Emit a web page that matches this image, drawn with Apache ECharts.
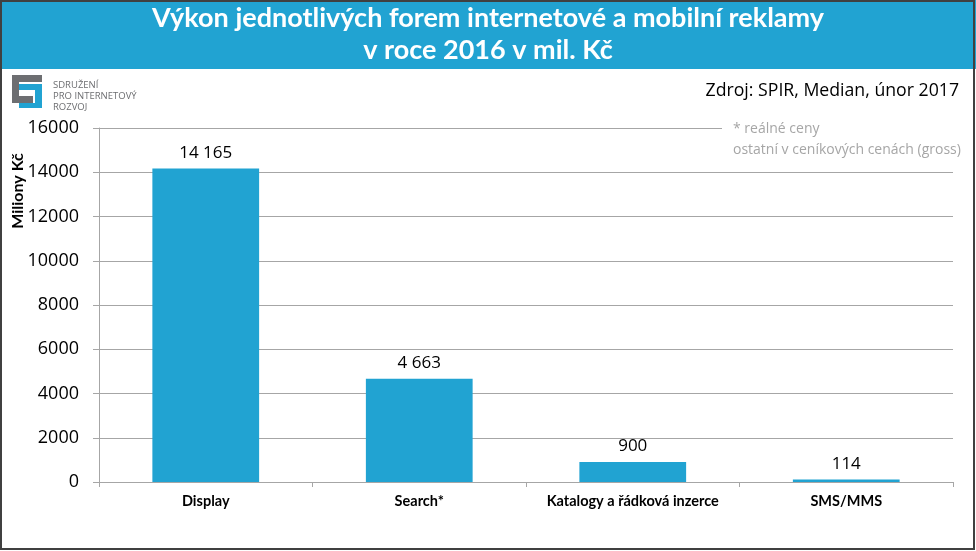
<!DOCTYPE html>
<html><head><meta charset="utf-8">
<script src="https://cdn.jsdelivr.net/npm/echarts@6/dist/echarts.min.js"></script>
<style>html,body{margin:0;padding:0;background:#fff}#c{width:976px;height:551px}</style>
</head><body><div id="c"></div>
<script>
const categories = ['Display', 'Search*', 'Katalogy a řádková inzerce', 'SMS/MMS'];
const values = [14165, 4663, 900, 114];
const yTicks = [0, 2000, 4000, 6000, 8000, 10000, 12000, 14000, 16000];
const titleLines = ['Výkon jednotlivých forem internetové a mobilní reklamy', 'v roce 2016 v mil. Kč'];
const yAxisName = 'Miliony Kč';
const sourceText = 'Zdroj: SPIR, Median, únor 2017';
const noteLines = ['* reálné ceny', 'ostatní v ceníkových cenách (gross)'];
const logoLines = ['SDRUŽENÍ', 'PRO INTERNETOVÝ', 'ROZVOJ'];

const chart = echarts.init(document.getElementById('c'), null, {renderer: 'canvas'});
const blue = '#21A3D2';
const gray = '#6D6E71';
function fmt(v){ return String(v).replace(/\B(?=(\d{3})+(?!\d))/g, ' '); }

chart.setOption({
  animation: false,
  backgroundColor: '#fff',
  grid: {left: 99, right: 23, top: 128, bottom: 69},
  xAxis: {
    type: 'category', data: categories,
    axisLine: {lineStyle: {color: '#A6A6A6'}},
    axisTick: {show: true, length: 5, lineStyle: {color: '#A6A6A6'}},
    axisLabel: {interval: 0, color: '#000', fontFamily: 'Lato', fontWeight: 'bold', fontSize: 14.5, margin: 12}
  },
  yAxis: {
    type: 'value', min: yTicks[0], max: yTicks[yTicks.length-1], interval: yTicks[1]-yTicks[0],
    axisLine: {show: true, lineStyle: {color: '#A6A6A6'}},
    axisTick: {show: true, length: 6, lineStyle: {color: '#A6A6A6'}},
    axisLabel: {color: '#000', fontFamily: 'Open Sans', fontSize: 18, margin: 20, formatter: v => String(v)},
    splitLine: {lineStyle: {color: '#A6A6A6'}}
  },
  series: [{
    type: 'bar', data: values, barWidth: '50%',
    itemStyle: {color: blue},
    label: {show: true, position: 'top', distance: 7, color: '#000', fontFamily: 'Open Sans', fontSize: 17,
      formatter: p => fmt(p.value)}
  }],
  graphic: [
    {type: 'rect', left: 0, top: 0, shape: {width: 976, height: 69}, style: {fill: blue}, z: 10},
    {type: 'text', x: 488, y: 18, style: {text: titleLines[0], fill: '#fff', font: 'bold 27px Lato', textAlign: 'center', textVerticalAlign: 'middle'}, z: 11},
    {type: 'text', x: 488, y: 50, style: {text: titleLines[1], fill: '#fff', font: 'bold 27px Lato', textAlign: 'center', textVerticalAlign: 'middle'}, z: 11},
    {type: 'text', x: 18, y: 191, rotation: Math.PI/2, style: {text: yAxisName, fill: '#000', font: 'bold 16px Lato', textAlign: 'center', textVerticalAlign: 'middle'}, z: 11},
    {type: 'text', x: 959, y: 91, style: {text: sourceText, fill: '#000', font: '17.7px "Open Sans"', textAlign: 'right', textVerticalAlign: 'middle'}, z: 11},
    {type: 'rect', shape: {x: 722, y: 118, width: 245, height: 44}, style: {fill: '#fff'}, z: 10},
    {type: 'text', x: 733, y: 129, style: {text: noteLines[0], fill: '#A6A6A6', font: '14px "Open Sans"', textVerticalAlign: 'middle'}, z: 11},
    {type: 'text', x: 733, y: 150, style: {text: noteLines[1], fill: '#A6A6A6', font: '14px "Open Sans"', textVerticalAlign: 'middle'}, z: 11},
    // logo
    {type: 'rect', shape: {x: 12, y: 75, width: 30, height: 7}, style: {fill: gray}, z: 11},
    {type: 'rect', shape: {x: 12, y: 75, width: 7, height: 28}, style: {fill: gray}, z: 11},
    {type: 'rect', shape: {x: 12, y: 96, width: 21, height: 7}, style: {fill: gray}, z: 11},
    {type: 'rect', shape: {x: 19, y: 84, width: 23, height: 6}, style: {fill: blue}, z: 11},
    {type: 'rect', shape: {x: 35, y: 84, width: 7, height: 24}, style: {fill: blue}, z: 11},
    {type: 'rect', shape: {x: 19, y: 103, width: 23, height: 5}, style: {fill: blue}, z: 11},
    {type: 'text', x: 53, y: 85, style: {text: logoLines[0], fill: gray, font: '9.5px "Open Sans"', textVerticalAlign: 'middle'}, z: 11},
    {type: 'text', x: 53, y: 96, style: {text: logoLines[1], fill: gray, font: '9.5px "Open Sans"', textVerticalAlign: 'middle'}, z: 11},
    {type: 'text', x: 53, y: 107, style: {text: logoLines[2], fill: gray, font: '9.5px "Open Sans"', textVerticalAlign: 'middle'}, z: 11},
    // border
    {type: 'rect', shape: {x: 1, y: 1, width: 973, height: 548}, style: {fill: 'none', stroke: '#404040', lineWidth: 2}, z: 20}
  ]
});
</script></body></html>
